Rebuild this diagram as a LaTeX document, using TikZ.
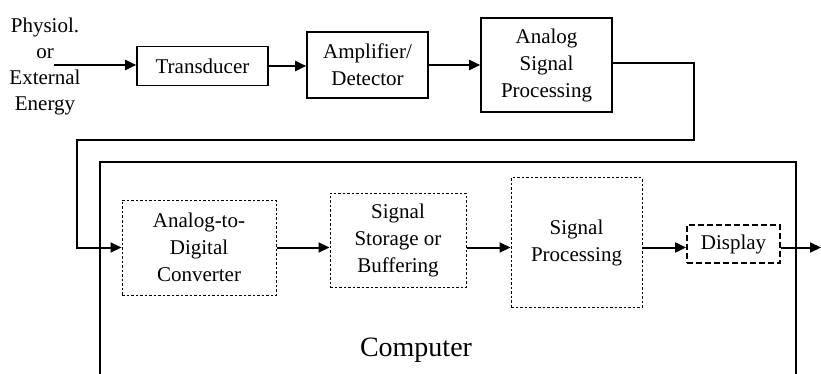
\documentclass[tikz,border=0pt]{standalone}
\usepackage{fontspec}
\setmainfont{Liberation Serif}
\usetikzlibrary{arrows.meta}
\begin{document}
\begin{tikzpicture}[x=1pt,y=-1pt,
  every node/.style={font=\fontsize{21}{27}\selectfont, align=center, inner sep=0pt},
  solidbox/.style={draw, line width=1.6pt},
  dotbox/.style={draw, line width=1pt, dash pattern=on 2.5pt off 2pt},
  dashbox/.style={draw, line width=1.8pt, dash pattern=on 6pt off 3pt},
  arr/.style={line width=2pt, -{Triangle[length=11pt,width=10pt]}},
  wire/.style={line width=2pt}]
\useasboundingbox (0,0) rectangle (821,374);
% input label
\node[font=\fontsize{21}{26}\selectfont] (lbl) at (45,66) {Physiol.\\or\\External\\Energy};
\coordinate (in) at (54,65);
% top row
\node[solidbox, minimum width=131, minimum height=39] (tr) at (202.5,66) {Transducer};
\node[solidbox, minimum width=121, minimum height=66] (amp) at (367.5,65) {Amplifier/\\Detector};
\node[solidbox, minimum width=131, minimum height=94] (asp) at (546.5,65) {Analog\\Signal\\Processing};
\draw[arr] (in) -- (tr.west |- in);
\draw[arr] (tr.east) -- (amp.west |- tr.east);
\draw[arr] (amp.east |- asp.west) -- (asp.west);
% computer box
\draw[line width=1.8pt] (100,374) -- (100,162) -- (796,162) -- (796,374);
\node[font=\fontsize{28}{32}\selectfont] (comp) at (416,350) {Computer};
% bottom row
\node[dotbox, minimum width=154, minimum height=95] (adc) at (199,247.5) {Analog-to-\\Digital\\Converter};
\node[dotbox, minimum width=136, minimum height=94] (ssb) at (398,240) {Signal\\Storage or\\Buffering};
\node[dotbox, minimum width=131, minimum height=129] (sp) at (576.5,242.5) {Signal\\Processing};
\node[dashbox, minimum width=93, minimum height=38] (disp) at (733.5,244) {Display};
\coordinate (loopR) at (694,140);
\coordinate (loopL) at (77,140);
\coordinate (out) at (821,247.5);
\draw[arr] (asp.east |- 0,63) -| (loopR) -- (loopL) |- (adc.west);
\draw[arr] (adc.east) -- (ssb.west |- adc.east);
\draw[arr] (ssb.east |- adc.east) -- (sp.west |- adc.east);
\draw[arr] (sp.east |- adc.east) -- (disp.west |- adc.east);
\draw[arr] (disp.east |- adc.east) -- (out);
\end{tikzpicture}
\end{document}
